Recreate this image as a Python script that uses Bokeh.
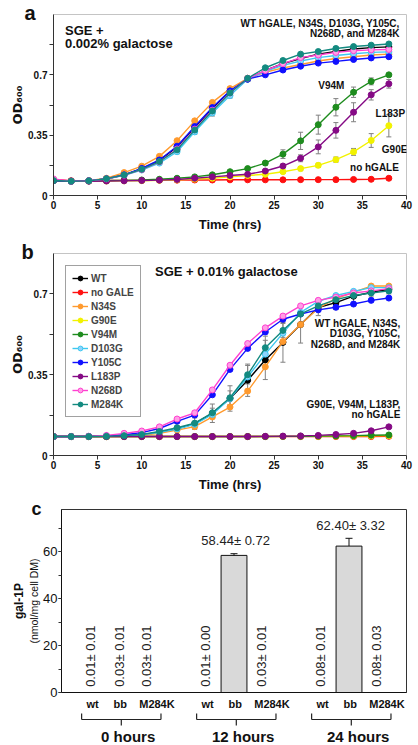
import math
from bokeh.plotting import figure
from bokeh.layouts import column
from bokeh.models import (Range1d, FixedTicker, SingleIntervalTicker, LinearAxis, Title,
                          Whisker, TeeHead, ColumnDataSource)
from bokeh.embed import file_html
from bokeh.resources import INLINE
from bokeh.core.properties import value

FONT = "Liberation Sans"

# ---------------- data ----------------
hours = [0, 2, 4, 6, 8, 10, 12, 14, 16, 18, 20, 22, 24, 26, 28, 30, 32, 34, 36, 38]
strains = ["WT", "no GALE", "N34S", "G90E", "V94M", "D103G", "Y105C", "L183P", "N268D", "M284K"]

# panel a : SGE + 0.002% galactose (OD600)
a_wt     = [0.087, 0.083, 0.085, 0.097, 0.120, 0.155, 0.203, 0.282, 0.395, 0.505, 0.605, 0.675, 0.725, 0.765, 0.795, 0.820, 0.835, 0.850, 0.858, 0.862]
a_nogale = [0.093, 0.086, 0.086, 0.087, 0.088, 0.088, 0.089, 0.089, 0.090, 0.090, 0.091, 0.091, 0.091, 0.091, 0.092, 0.092, 0.092, 0.093, 0.094, 0.100]
a_n34s   = [0.087, 0.083, 0.086, 0.100, 0.133, 0.170, 0.227, 0.318, 0.433, 0.540, 0.620, 0.680, 0.715, 0.740, 0.760, 0.780, 0.795, 0.805, 0.815, 0.820]
a_g90e   = [0.087, 0.083, 0.083, 0.084, 0.085, 0.086, 0.088, 0.091, 0.095, 0.100, 0.108, 0.116, 0.123, 0.138, 0.156, 0.175, 0.208, 0.253, 0.319, 0.405]
a_v94m   = [0.087, 0.083, 0.085, 0.087, 0.088, 0.090, 0.094, 0.100, 0.108, 0.120, 0.138, 0.156, 0.188, 0.240, 0.317, 0.411, 0.512, 0.599, 0.662, 0.700]
a_d103g  = [0.087, 0.083, 0.085, 0.096, 0.117, 0.148, 0.188, 0.254, 0.369, 0.479, 0.580, 0.675, 0.720, 0.755, 0.780, 0.800, 0.812, 0.822, 0.830, 0.833]
a_y105c  = [0.087, 0.083, 0.085, 0.097, 0.120, 0.157, 0.206, 0.286, 0.400, 0.510, 0.607, 0.675, 0.700, 0.728, 0.750, 0.768, 0.778, 0.789, 0.798, 0.805]
a_l183p  = [0.087, 0.083, 0.083, 0.084, 0.085, 0.087, 0.089, 0.093, 0.100, 0.108, 0.116, 0.123, 0.142, 0.171, 0.216, 0.282, 0.378, 0.483, 0.584, 0.648]
a_n268d  = [0.096, 0.083, 0.085, 0.096, 0.118, 0.150, 0.195, 0.270, 0.385, 0.495, 0.595, 0.680, 0.725, 0.765, 0.800, 0.815, 0.830, 0.840, 0.845, 0.847]
a_m284k  = [0.087, 0.083, 0.085, 0.097, 0.119, 0.152, 0.197, 0.265, 0.380, 0.490, 0.595, 0.680, 0.741, 0.783, 0.820, 0.835, 0.853, 0.864, 0.872, 0.879]

a_err_v94m  = [0, 0, 0, 0, 0, 0, 0, 0, 0, 0, 0, 0.005, 0.012, 0.025, 0.050, 0.055, 0.050, 0.030, 0.020, 0.008]
a_err_l183p = [0, 0, 0, 0, 0, 0, 0, 0, 0, 0, 0, 0, 0.006, 0.010, 0.020, 0.040, 0.045, 0.055, 0.030, 0.025]
a_err_g90e  = [0, 0, 0, 0, 0, 0, 0, 0, 0, 0, 0, 0, 0, 0.008, 0.012, 0.012, 0.015, 0.020, 0.040, 0.065]
a_err_d103g = [0, 0, 0, 0, 0, 0, 0, 0.012, 0.015, 0.018, 0.015, 0.010, 0, 0, 0, 0, 0, 0, 0, 0]
a_err_m284k = [0, 0, 0, 0, 0, 0, 0, 0, 0, 0, 0, 0, 0.008, 0.008, 0.008, 0.008, 0.008, 0.008, 0.008, 0.008]

# panel b : SGE + 0.01% galactose (OD600)
b_wt     = [0.082, 0.082, 0.082, 0.083, 0.086, 0.090, 0.100, 0.116, 0.138, 0.183, 0.247, 0.326, 0.414, 0.490, 0.567, 0.641, 0.662, 0.690, 0.707, 0.720]
b_nogale = [0.082, 0.082, 0.082, 0.082, 0.082, 0.082, 0.082, 0.082, 0.082, 0.082, 0.082, 0.082, 0.082, 0.082, 0.082, 0.082, 0.082, 0.082, 0.082, 0.083]
b_n34s   = [0.082, 0.082, 0.082, 0.082, 0.084, 0.088, 0.096, 0.110, 0.125, 0.167, 0.210, 0.279, 0.384, 0.494, 0.567, 0.638, 0.680, 0.707, 0.734, 0.734]
b_g90e   = [0.082, 0.082, 0.082, 0.082, 0.082, 0.082, 0.082, 0.082, 0.082, 0.082, 0.082, 0.082, 0.082, 0.083, 0.083, 0.083, 0.084, 0.084, 0.085, 0.086]
b_v94m   = [0.082, 0.082, 0.082, 0.082, 0.082, 0.082, 0.082, 0.082, 0.082, 0.082, 0.082, 0.082, 0.082, 0.083, 0.083, 0.084, 0.085, 0.086, 0.088, 0.089]
b_d103g  = [0.082, 0.082, 0.082, 0.083, 0.085, 0.090, 0.100, 0.115, 0.135, 0.178, 0.247, 0.340, 0.439, 0.530, 0.620, 0.668, 0.693, 0.711, 0.727, 0.727]
b_y105c  = [0.082, 0.082, 0.083, 0.085, 0.090, 0.099, 0.117, 0.148, 0.175, 0.263, 0.373, 0.464, 0.535, 0.590, 0.613, 0.631, 0.642, 0.656, 0.672, 0.682]
b_l183p  = [0.082, 0.082, 0.082, 0.082, 0.082, 0.082, 0.082, 0.082, 0.082, 0.082, 0.082, 0.082, 0.083, 0.084, 0.085, 0.087, 0.091, 0.096, 0.107, 0.124]
b_n268d  = [0.082, 0.082, 0.083, 0.087, 0.096, 0.106, 0.124, 0.158, 0.185, 0.284, 0.391, 0.485, 0.553, 0.604, 0.648, 0.672, 0.686, 0.704, 0.713, 0.723]
b_m284k  = [0.082, 0.082, 0.082, 0.083, 0.086, 0.091, 0.104, 0.120, 0.140, 0.185, 0.250, 0.350, 0.467, 0.542, 0.613, 0.648, 0.675, 0.693, 0.704, 0.713]

b_err_wt    = [0, 0, 0, 0, 0, 0, 0, 0.012, 0.025, 0.040, 0.055, 0.070, 0.085, 0.086, 0.080, 0.035, 0.030, 0.028, 0.020, 0.020]
b_err_m284k = [0, 0, 0, 0, 0, 0, 0, 0, 0, 0.020, 0.030, 0.040, 0.050, 0.030, 0, 0, 0, 0, 0, 0]

# panel c : gal-1P (nmol/mg cell DM)
c_groups  = ["0 hours", "12 hours", "24 hours"]
c_samples = ["wt", "bb", "M284K"]
c_mean = [[0.01, 0.03, 0.03], [0.01, 58.44, 0.03], [0.08, 62.40, 0.08]]
c_err  = [[0.01, 0.01, 0.01], [0.00, 0.72, 0.01], [0.01, 3.32, 0.03]]

# ---------------- styles ----------------
line_col = {"WT": "#000000", "no GALE": "#ff1010", "N34S": "#ff9a2e", "G90E": "#f2f200",
            "V94M": "#1e8c1e", "D103G": "#3cc8f0", "Y105C": "#1010ff", "L183P": "#850a85",
            "N268D": "#ff40d0", "M284K": "#138a80"}
fill_col = dict(line_col)
fill_col["N268D"] = "#ff9ee6"
fill_col["D103G"] = "#8fd3ff"

W = 418
SHIFT_C = 8   # panel c sits 8 px further right than panels a and b


def style_axes(p, tick_size="10px", tick_style="bold"):
    for ax in p.axis:
        ax.axis_line_color = "#333333"
        ax.major_tick_line_color = "#333333"
        ax.minor_tick_line_color = "#333333"
        ax.major_tick_in = 0
        ax.major_tick_out = 4
        ax.minor_tick_in = 0
        ax.minor_tick_out = 4
        ax.major_label_standoff = 2
        ax.major_label_text_font = FONT
        ax.major_label_text_font_style = tick_style
        ax.major_label_text_font_size = tick_size
        ax.major_label_text_color = "#111111"
        ax.axis_label_text_font = FONT
        ax.axis_label_text_font_style = "bold"
        ax.axis_label_text_color = "#111111"


def add_err(p, xs, ys, es, color="#808080", size=5):
    idx = [i for i, e in enumerate(es) if e > 0]
    src = ColumnDataSource(dict(x=[xs[i] for i in idx],
                                lo=[ys[i] - es[i] for i in idx],
                                hi=[ys[i] + es[i] for i in idx]))
    w = Whisker(source=src, base="x", lower="lo", upper="hi", line_color=color, line_width=1,
                lower_head=TeeHead(size=size, line_color=color, line_width=1),
                upper_head=TeeHead(size=size, line_color=color, line_width=1))
    p.add_layout(w)


def growth_fig(height, top, bottom, ymax, minor):
    p = figure(width=W, height=height, x_range=Range1d(0, 40), y_range=Range1d(0, ymax),
               output_backend="svg", toolbar_location=None,
               min_border_left=52, min_border_right=7, min_border_top=top, min_border_bottom=bottom)
    p.grid.visible = False
    p.outline_line_color = "#c4c4c4"
    p.xaxis.ticker = SingleIntervalTicker(interval=5, num_minor_ticks=0)
    p.yaxis.ticker = FixedTicker(ticks=[0, 0.35, 0.7], minor_ticks=minor)
    p.yaxis.major_label_overrides = {0: "0", 0.35: "0.35", 0.7: "0.7"}
    p.xaxis.axis_label = "Time (hrs)"
    p.yaxis.axis_label = "OD\u2086\u2080\u2080"
    style_axes(p)
    p.xaxis.major_label_standoff = 1
    p.xaxis.axis_label_text_font_size = "13px"
    p.yaxis.axis_label_text_font = "DejaVu Sans"
    p.yaxis.axis_label_text_font_size = "13px"
    p.xaxis.axis_label_standoff = 5
    p.yaxis.axis_label_standoff = 0
    return p


def draw_series(p, series, legend=False):
    for name, ys in zip(strains, series):
        kw = dict(legend_label=name) if legend else {}
        p.line(hours, ys, line_color=line_col[name], line_width=1.4, **kw)
        p.scatter(hours, ys, marker="circle", size=6, fill_color=fill_col[name],
                  line_color=line_col[name], line_width=1, **kw)


def add_texts(p, xs, ys, texts, align, size="10px"):
    p.text(x=xs, y=ys, text=texts, text_font=value(FONT), text_font_style="bold",
           text_font_size=size, text_align=align, text_baseline="middle", text_color="#111111")


def letter(p, txt, offset, pad, size="20px"):
    t = Title(text=txt, align="left", vertical_align="top", offset=offset,
              text_font=FONT, text_font_style="bold", text_font_size=size, text_color="#111111")
    try:
        t.standoff = -22
    except Exception:
        pass
    try:
        t.padding = (0, 0, pad, 0)
    except Exception:
        pass
    p.add_layout(t, "above")


# ---------------- panel a ----------------
pa = growth_fig(236, 5, 41, 1.05, [0.175, 0.525, 0.875])
series_a = [a_wt, a_nogale, a_n34s, a_g90e, a_v94m, a_d103g, a_y105c, a_l183p, a_n268d, a_m284k]
add_err(pa, hours, a_v94m, a_err_v94m)
add_err(pa, hours, a_l183p, a_err_l183p)
add_err(pa, hours, a_g90e, a_err_g90e)
add_err(pa, hours, a_d103g, a_err_d103g)
add_err(pa, hours, a_m284k, a_err_m284k)
draw_series(pa, series_a)
add_texts(pa, [1.3, 1.3], [0.956, 0.879], ["SGE +", "0.002% galactose"], "left", "13px")
add_texts(pa, [39.2, 39.2], [0.995, 0.94], ["WT hGALE, N34S, D103G, Y105C,", "N268D, and M284K"], "right")
add_texts(pa, [30.0, 36.5, 37.2, 33.6], [0.64, 0.474, 0.264, 0.162],
          ["V94M", "L183P", "G90E", "no hGALE"], "left")
letter(pa, "a", -29, 12)

# ---------------- panel b ----------------
pb = growth_fig(262, 7, 43, 0.875, [0.175, 0.525])
series_b = [b_wt, b_nogale, b_n34s, b_g90e, b_v94m, b_d103g, b_y105c, b_l183p, b_n268d, b_m284k]
add_err(pb, hours, b_wt, b_err_wt)
add_err(pb, hours, b_m284k, b_err_m284k)
draw_series(pb, series_b, legend=True)
add_texts(pb, [11.5], [0.795], ["SGE + 0.01% galactose"], "left", "13px")
add_texts(pb, [39.3, 39.3, 39.3], [0.572, 0.528, 0.482],
          ["WT hGALE, N34S,", "D103G, Y105C,", "N268D, and M284K"], "right")
add_texts(pb, [39.3, 39.3], [0.219, 0.177], ["G90E, V94M, L183P,", "no hGALE"], "right")
lg = pb.legend[0]
lg.location = "top_left"
lg.margin = 12
lg.padding = 6
lg.spacing = 2
lg.glyph_width = 16
lg.glyph_height = 12
lg.label_height = 12
lg.label_standoff = 3
lg.label_text_font = FONT
lg.label_text_font_style = "bold"
lg.label_text_font_size = "10px"
lg.border_line_color = "#444444"
lg.background_fill_alpha = 1
letter(pb, "b", -32, 15)

# ---------------- panel c ----------------
lab_off = [-0.23, 0.01, 0.33]
tick_pos, tick_lab = [], {}
for g in range(3):
    for s in range(3):
        tp = round(g + 0.5 + lab_off[s], 3)
        tick_pos.append(tp)
        tick_lab[tp] = c_samples[s]

pc = figure(width=W - SHIFT_C, height=214, x_range=Range1d(0, 3), y_range=Range1d(0, 78),
            output_backend="svg", toolbar_location=None,
            min_border_left=52, min_border_right=12, min_border_top=7, min_border_bottom=19)
pc.margin = (0, 0, 0, SHIFT_C)
pc.grid.visible = False
pc.outline_line_color = "#333333"
pc.xaxis.ticker = FixedTicker(ticks=tick_pos, minor_ticks=[])
pc.xaxis.major_label_overrides = tick_lab
pc.yaxis.ticker = SingleIntervalTicker(interval=20, num_minor_ticks=2)
pc.yaxis.axis_label = "(nmol/mg cell DM)"
outer = LinearAxis(ticker=FixedTicker(ticks=[]), axis_label="gal-1P")
pc.add_layout(outer, "left")
style_axes(pc, tick_size="13px", tick_style="normal")
pc.xaxis.major_tick_out = 0
pc.xaxis.major_label_standoff = 5
pc.xaxis.major_label_text_font_style = "bold"
pc.xaxis.major_label_text_font_size = "11px"
pc.xaxis.axis_line_color = "#111111"
pc.yaxis[0].axis_line_color = "#111111"
pc.yaxis[0].major_tick_out = 3
pc.yaxis[0].minor_tick_out = 3
pc.yaxis[0].major_label_standoff = 1
pc.yaxis[0].axis_label_text_font_style = "normal"
pc.yaxis[0].axis_label_text_font_size = "10.5px"
pc.yaxis[0].axis_label_standoff = 0
outer.axis_line_color = None
outer.major_tick_out = 0
outer.minor_tick_out = 0
outer.axis_label_text_font_size = "12px"
outer.axis_label_standoff = 0

bar_off = [-0.25, 0.0, 0.235]
bx, btop, blo, bhi = [], [], [], []
for g in range(3):
    for s in range(3):
        x = g + 0.5 + bar_off[s]
        m, e = c_mean[g][s], c_err[g][s]
        if m >= 1:
            bx.append(x); btop.append(m)
            blo.append(m - e); bhi.append(m + e)
pc.vbar(x=bx, top=btop, width=0.225, bottom=0, fill_color="#d9d9d9", line_color="#111111", line_width=1)
esrc = ColumnDataSource(dict(x=bx, lo=blo, hi=bhi))
pc.add_layout(Whisker(source=esrc, base="x", lower="lo", upper="hi", line_color="#111111", line_width=1,
                      lower_head=TeeHead(size=7, line_color="#111111"),
                      upper_head=TeeHead(size=7, line_color="#111111")))
for g in range(3):
    for s in range(3):
        x = g + 0.5 + bar_off[s]
        m, e = c_mean[g][s], c_err[g][s]
        lab = f"{m:.2f}\u00b1  {e:.2f}"
        if m >= 1:
            pc.text(x=[x + 0.03], y=[m + e + 2.3], text=[lab], text_font=value(FONT),
                    text_font_size="13px", text_align="center", text_baseline="bottom", text_color="#222222")
        else:
            pc.text(x=[x], y=[2.4], text=[lab], angle=math.pi / 2, text_font=value(FONT),
                    text_font_size="13px", text_align="left", text_baseline="middle", text_color="#222222")
letter(pc, "c", -30, 11, "18px")

# ---------------- brackets / group labels below panel c ----------------
pdd = figure(width=W - SHIFT_C, height=32, x_range=pc.x_range, y_range=Range1d(32, 0),
             output_backend="svg", toolbar_location=None,
             min_border_left=52, min_border_right=12, min_border_top=0, min_border_bottom=0)
pdd.margin = (0, 0, 0, SHIFT_C)
pdd.axis.visible = False
pdd.grid.visible = False
pdd.outline_line_color = None
hw = 0.345
xs0, ys0, xs1, ys1 = [], [], [], []
for g in range(3):
    c = g + 0.52
    xs0 += [c - hw, c - hw, c + hw, c]
    xs1 += [c + hw, c - hw, c + hw, c]
    ys0 += [7, 1, 1, 7]
    ys1 += [7, 7, 7, 13]
pdd.segment(x0=xs0, y0=ys0, x1=xs1, y1=ys1, line_color="#222222", line_width=1.2)
pdd.text(x=[g + 0.58 for g in range(3)], y=[24, 24, 24], text=c_groups, text_font=value(FONT),
         text_font_style="bold", text_font_size="15px", text_align="center", text_baseline="middle",
         text_color="#111111")

layout = column(pa, pb, pc, pdd, spacing=0)
open("out.html", "w").write(file_html(layout, INLINE))
